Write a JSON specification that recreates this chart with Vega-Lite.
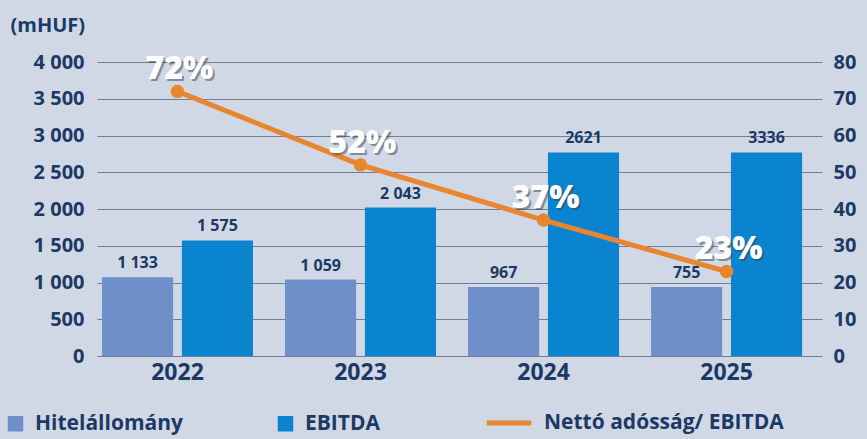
{
  "$schema": "https://vega.github.io/schema/vega-lite/v6.json",
  "width": 725,
  "height": 294,
  "autosize": {"type": "none"},
  "padding": {"left": 97, "top": 62, "right": 45, "bottom": 83},
  "background": "#d0d8e5",
  "config": {
    "view": {"stroke": null},
    "font": "Open Sans",
    "axis": {"labelFont": "Open Sans", "labelFontWeight": "bold", "labelColor": "#1c3966", "titleFont": "Open Sans", "titleColor": "#1c3966"},
    "legend": {"labelFont": "Open Sans", "labelFontWeight": "bold", "labelColor": "#1c3966", "labelLimit": 400}
  },
  "datasets": {
    "bars": [
      {"year": "2022", "series": "Hitelállomány", "value": 1070, "label": "1 133"},
      {"year": "2022", "series": "EBITDA", "value": 1573, "label": "1 575"},
      {"year": "2023", "series": "Hitelállomány", "value": 1040, "label": "1 059"},
      {"year": "2023", "series": "EBITDA", "value": 2020, "label": "2 043"},
      {"year": "2024", "series": "Hitelállomány", "value": 940, "label": "967"},
      {"year": "2024", "series": "EBITDA", "value": 2770, "label": "2621"},
      {"year": "2025", "series": "Hitelállomány", "value": 940, "label": "755"},
      {"year": "2025", "series": "EBITDA", "value": 2770, "label": "3336"}
    ],
    "ratio": [
      {"year": "2022", "ratio": 72, "label": "72%"},
      {"year": "2023", "ratio": 52, "label": "52%"},
      {"year": "2024", "ratio": 37, "label": "37%"},
      {"year": "2025", "ratio": 23, "label": "23%"}
    ]
  },
  "layer": [
    {
      "data": {"name": "bars"},
      "encoding": {
        "x": {
          "field": "year", "type": "nominal", "title": null,
          "scale": {"paddingInner": 0.175, "paddingOuter": 0.068, "align": 0.2},
          "axis": {"labelAngle": 0, "labelFontSize": 23, "labelPadding": 5, "domain": false, "ticks": false}
        },
        "xOffset": {"field": "series", "type": "nominal", "sort": ["Hitelállomány", "EBITDA"], "scale": {"paddingInner": 0.11}},
        "y": {
          "field": "value", "type": "quantitative",
          "scale": {"domain": [0, 4000], "nice": false},
          "axis": {
            "values": [0, 500, 1000, 1500, 2000, 2500, 3000, 3500, 4000],
            "labelExpr": "replace(format(datum.value, ','), ',', ' ')",
            "grid": true, "gridColor": "#6f7e96", "gridWidth": 1.2,
            "domain": false, "ticks": false,
            "labelFontSize": 20, "labelPadding": 13,
            "title": "(mHUF)", "titleAngle": 0, "titleAlign": "left", "titleBaseline": "middle",
            "titleX": -87, "titleY": -37, "titleFontSize": 20, "titleFontWeight": "bold"
          }
        }
      },
      "layer": [
        {
          "mark": {"type": "bar"},
          "encoding": {
            "color": {
              "field": "series", "type": "nominal",
              "scale": {"domain": ["Hitelállomány", "EBITDA"], "range": ["#6f8fcb", "#0b84cf"]},
              "legend": {
                "orient": "none", "legendX": -92, "legendY": 351, "direction": "horizontal", "title": null,
                "symbolType": "square", "symbolSize": 240, "labelFontSize": 21, "labelOffset": 9,
                "columnPadding": 92, "symbolStrokeWidth": 0
              }
            }
          }
        },
        {
          "mark": {"type": "text", "baseline": "bottom", "dy": -6, "fontSize": 16, "fontWeight": "bold", "color": "#1c3966"},
          "encoding": {"text": {"field": "label"}}
        }
      ]
    },
    {
      "data": {"name": "ratio"},
      "encoding": {
        "x": {"field": "year", "type": "nominal"},
        "y": {
          "field": "ratio", "type": "quantitative",
          "scale": {"domain": [0, 80], "nice": false},
          "axis": {
            "orient": "right", "values": [0, 10, 20, 30, 40, 50, 60, 70, 80], "grid": false,
            "domain": false, "ticks": false, "labelFontSize": 20, "labelPadding": 11, "title": null
          }
        }
      },
      "layer": [
        {
          "mark": {"type": "line", "strokeWidth": 5},
          "encoding": {
            "stroke": {
              "datum": "Nettó adósság/ EBITDA", "type": "nominal",
              "scale": {"range": ["#e8862e"]},
              "legend": {
                "orient": "none", "legendX": 387, "legendY": 336, "title": null,
                "symbolType": "stroke", "symbolSize": 2000, "symbolStrokeWidth": 5,
                "labelFontSize": 21, "labelOffset": 10
              }
            }
          }
        },
        {
          "mark": {"type": "point", "filled": true, "size": 180, "opacity": 1, "color": "#e8862e"},
          "encoding": {}
        },
        {
          "mark": {"type": "text", "baseline": "middle", "dx": 4, "dy": -20, "fontSize": 32, "fontWeight": 800, "color": "#3a3f4a", "opacity": 0.5},
          "encoding": {"text": {"field": "label"}}
        },
        {
          "mark": {"type": "text", "baseline": "middle", "dx": 2, "dy": -22, "fontSize": 32, "fontWeight": 800, "color": "#ffffff"},
          "encoding": {"text": {"field": "label"}}
        }
      ]
    }
  ],
  "resolve": {"scale": {"y": "independent"}}
}
